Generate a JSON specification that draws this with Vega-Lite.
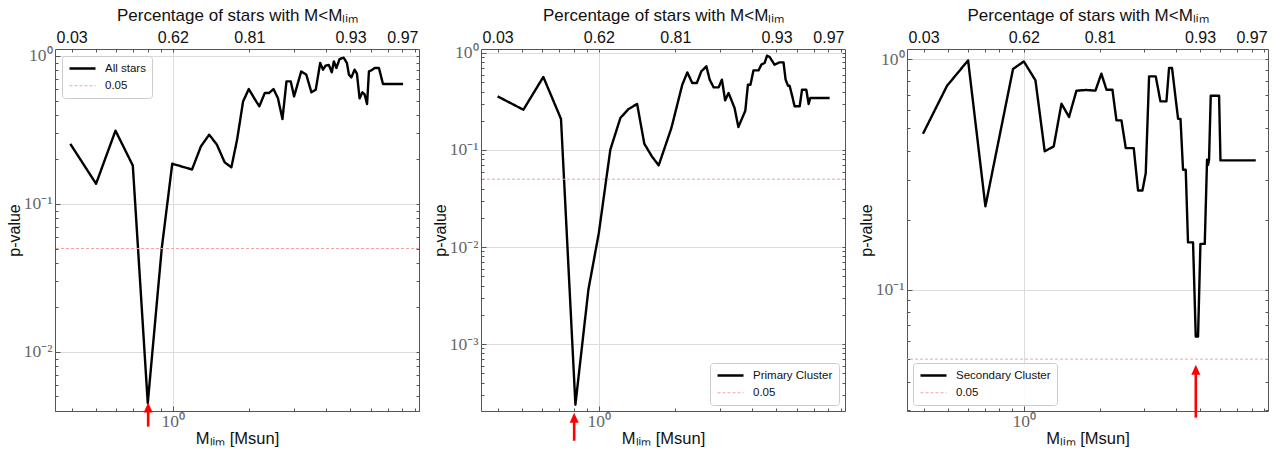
{
  "$schema": "https://vega.github.io/schema/vega-lite/v6.json",
  "padding": {"left": 6, "top": 6, "right": 5, "bottom": 5},
  "background": "white",
  "config": {
    "view": {"stroke": null},
    "axis": {
      "domainColor": "#555", "tickColor": "#555", "gridColor": "#dcdcdc", "gridWidth": 1,
      "labelOverlap": false, "labelFlush": false, "labelBound": false,
      "titleFont": "Liberation Sans", "titleFontWeight": "normal", "titleColor": "#111",
      "labelFont": "Liberation Serif", "labelColor": "#666", "labelFontSize": 17.5
    },
    "legend": {
      "title": null, "padding": 6, "strokeColor": "#cccccc", "fillColor": "rgba(255,255,255,0.85)",
      "cornerRadius": 3, "offset": 7, "labelFont": "Liberation Sans", "labelFontSize": 11.5,
      "labelColor": "#111", "rowPadding": 5, "symbolType": "M-1,0L4.2,0", "symbolSize": 100, "labelOffset": 24
    }
  },
  "datasets": {
    "curve1": [
      {"m":0.395,"p":0.255},{"m":0.499,"p":0.137},{"m":0.595,"p":0.313},{"m":0.696,"p":0.182},{"m":0.797,"p":0.0045},
      {"m":0.905,"p":0.0504},{"m":0.995,"p":0.187},{"m":1.19,"p":0.171},{"m":1.29,"p":0.245},{"m":1.39,"p":0.294},
      {"m":1.49,"p":0.252},{"m":1.60,"p":0.191},{"m":1.70,"p":0.177},{"m":1.79,"p":0.272},{"m":1.89,"p":0.493},
      {"m":1.99,"p":0.598},{"m":2.10,"p":0.512},{"m":2.19,"p":0.457},{"m":2.30,"p":0.562},{"m":2.39,"p":0.562},
      {"m":2.49,"p":0.598},{"m":2.59,"p":0.52},{"m":2.70,"p":0.375},{"m":2.80,"p":0.674},{"m":2.91,"p":0.674},
      {"m":3.00,"p":0.533},{"m":3.20,"p":0.787},{"m":3.35,"p":0.748},{"m":3.51,"p":0.568},{"m":3.65,"p":0.592},
      {"m":3.80,"p":0.897},{"m":3.90,"p":0.808},{"m":3.99,"p":0.86},{"m":4.11,"p":0.87},{"m":4.22,"p":0.775},
      {"m":4.30,"p":0.92},{"m":4.40,"p":0.83},{"m":4.53,"p":0.954},{"m":4.70,"p":0.974},{"m":4.84,"p":0.897},
      {"m":4.93,"p":0.748},{"m":5.04,"p":0.717},{"m":5.19,"p":0.808},{"m":5.30,"p":0.76},{"m":5.43,"p":0.517},
      {"m":5.57,"p":0.568},{"m":5.68,"p":0.55},{"m":5.81,"p":0.474},{"m":5.91,"p":0.787},{"m":6.04,"p":0.8},
      {"m":6.23,"p":0.83},{"m":6.47,"p":0.83},{"m":6.71,"p":0.647},{"m":8.05,"p":0.647}
    ],
    "curve2": [
      {"m":0.400,"p":0.357},{"m":0.505,"p":0.260},{"m":0.605,"p":0.566},{"m":0.710,"p":0.209},{"m":0.809,"p":0.000237},
      {"m":0.91,"p":0.00363},{"m":1.0,"p":0.0139},{"m":1.11,"p":0.1007},{"m":1.216,"p":0.214},{"m":1.31,"p":0.265},
      {"m":1.415,"p":0.298},{"m":1.51,"p":0.116},{"m":1.617,"p":0.086},{"m":1.72,"p":0.0694},{"m":1.93,"p":0.1686},
      {"m":2.13,"p":0.471},{"m":2.23,"p":0.631},{"m":2.33,"p":0.491},{"m":2.43,"p":0.491},{"m":2.53,"p":0.646},
      {"m":2.65,"p":0.728},{"m":2.73,"p":0.531},{"m":2.83,"p":0.442},{"m":2.96,"p":0.442},{"m":3.05,"p":0.531},
      {"m":3.14,"p":0.3246},{"m":3.24,"p":0.387},{"m":3.42,"p":0.271},{"m":3.54,"p":0.1726},{"m":3.77,"p":0.254},
      {"m":3.86,"p":0.471},{"m":3.95,"p":0.471},{"m":4.06,"p":0.662},{"m":4.25,"p":0.662},{"m":4.36,"p":0.758},
      {"m":4.49,"p":0.789},{"m":4.59,"p":0.938},{"m":4.70,"p":0.909},{"m":4.91,"p":0.758},{"m":5.14,"p":0.8},
      {"m":5.33,"p":0.8},{"m":5.43,"p":0.531},{"m":5.55,"p":0.46},{"m":5.63,"p":0.46},{"m":5.77,"p":0.357},
      {"m":5.89,"p":0.282},{"m":6.17,"p":0.282},{"m":6.30,"p":0.418},{"m":6.55,"p":0.418},{"m":6.69,"p":0.298},
      {"m":6.79,"p":0.3436},{"m":8.09,"p":0.3436}
    ],
    "curve3": [
      {"m":0.398,"p":0.474},{"m":0.496,"p":0.766},{"m":0.601,"p":0.986},{"m":0.704,"p":0.2297},{"m":0.906,"p":0.905},
      {"m":1.0,"p":0.976},{"m":1.112,"p":0.808},{"m":1.21,"p":0.398},{"m":1.314,"p":0.418},{"m":1.41,"p":0.64},
      {"m":1.511,"p":0.561},{"m":1.617,"p":0.729},{"m":1.771,"p":0.734},{"m":1.923,"p":0.729},{"m":2.03,"p":0.864},
      {"m":2.127,"p":0.736},{"m":2.246,"p":0.736},{"m":2.33,"p":0.542},{"m":2.439,"p":0.542},{"m":2.537,"p":0.411},
      {"m":2.729,"p":0.411},{"m":2.838,"p":0.269},{"m":2.954,"p":0.269},{"m":3.045,"p":0.3205},{"m":3.139,"p":0.841},
      {"m":3.336,"p":0.841},{"m":3.482,"p":0.655},{"m":3.678,"p":0.655},{"m":3.767,"p":0.914},{"m":3.871,"p":0.914},
      {"m":4.091,"p":0.55},{"m":4.182,"p":0.55},{"m":4.28,"p":0.331},{"m":4.387,"p":0.331},{"m":4.479,"p":0.1603},
      {"m":4.69,"p":0.1603},{"m":4.807,"p":0.0627},{"m":4.909,"p":0.0627},{"m":5.017,"p":0.158},{"m":5.219,"p":0.158},
      {"m":5.33,"p":0.366},{"m":5.379,"p":0.348},{"m":5.428,"p":0.366},{"m":5.513,"p":0.693},{"m":5.949,"p":0.693},
      {"m":6.025,"p":0.3634},{"m":8.317,"p":0.3634}
    ],
    "arrow1": [{"m":0.8,"tip":0.00455,"shaft":0.0043,"base":0.00313}],
    "arrow2": [{"m":0.8,"tip":0.000196,"shaft":0.000178,"base":0.0001007}],
    "arrow3": [{"m":4.81,"tip":0.0473,"shaft":0.0455,"base":0.0279}],
    "thr": [{"p":0.05}]
  },
  "hconcat": [
    {
      "width": 364, "height": 362,
      "layer": [
        {
          "data": {"name": "curve1"},
          "mark": {"type": "line", "strokeJoin": "round"},
          "encoding": {
            "x": {"field": "m", "type": "quantitative",
              "scale": {"type": "log", "domain": [0.344, 9.3], "nice": false, "zero": false},
              "axis": {"orient": "bottom", "values": [1], "labelExpr": "'10⁰'", "tickSize": -5, "labelPadding": 6, "grid": true,
                "title": "Mₗᵢₘ [Msun]", "titleFontSize": 16.5, "titleY": 27, "titleBaseline": "middle"}},
            "y": {"field": "p", "type": "quantitative",
              "scale": {"type": "log", "domain": [0.00399, 1.115], "nice": false, "zero": false},
              "axis": {"orient": "left", "values": [0.01, 0.1, 1], "labelExpr": "datum.value==1?'10⁰':datum.value==0.1?'10⁻¹':datum.value==0.01?'10⁻²':'10⁻³'",
                "tickSize": -5, "labelPadding": 8, "grid": true, "title": "p-value", "titleFontSize": 16, "titleX": -41, "titleBaseline": "middle"}},
            "color": {"datum": "All stars", "type": "nominal", "scale": {"domain": ["All stars", "0.05"], "range": ["black", "#f4a3a3"]}, "legend": {"orient": "top-left"}},
            "strokeDash": {"datum": "All stars", "type": "nominal", "scale": {"domain": ["All stars", "0.05"], "range": [[1, 0], [3, 2]]}},
            "strokeWidth": {"datum": "All stars", "type": "ordinal", "scale": {"type": "ordinal", "domain": ["All stars", "0.05"], "range": [2.4, 1]}}
          }
        },
        {
          "data": {"name": "thr"},
          "mark": {"type": "rule"},
          "encoding": {
            "y": {"field": "p", "type": "quantitative", "scale": {"type": "log", "domain": [0.00399, 1.115], "nice": false, "zero": false}, "axis": null},
            "color": {"datum": "0.05", "type": "nominal", "scale": {"domain": ["All stars", "0.05"], "range": ["black", "#f4a3a3"]}},
            "strokeDash": {"datum": "0.05", "type": "nominal", "scale": {"domain": ["All stars", "0.05"], "range": [[1, 0], [3, 2]]}},
            "strokeWidth": {"datum": "0.05", "type": "ordinal", "scale": {"type": "ordinal", "domain": ["All stars", "0.05"], "range": [2.4, 1]}}
          }
        },
        {
          "data": {"name": "arrow1"},
          "mark": {"type": "rule", "color": "red", "strokeWidth": 2.6},
          "encoding": {
            "x": {"field": "m", "type": "quantitative", "scale": {"type": "log", "domain": [0.344, 9.3], "nice": false, "zero": false},
              "axis": {"orient": "top", "values": [0.4,0.5,0.6,0.7,0.8,0.9,1,2,3,4,5,6,7,8,9],
                "labelExpr": "datum.value==0.4?'0.03':datum.value==1?'0.62':datum.value==2?'0.81':datum.value==5?'0.93':datum.value==8?'0.97':''",
                "tickSize": -3, "labelPadding": 7, "labelFont": "Liberation Sans", "labelColor": "#111", "labelFontSize": 16,
                "title": "Percentage of stars with M<Mₗᵢₘ", "titleFontSize": 17, "titleY": -34, "titleBaseline": "middle", "grid": false}},
            "y": {"field": "base", "type": "quantitative", "scale": {"type": "log", "domain": [0.00399, 1.115], "nice": false, "zero": false},
              "axis": {"orient": "right", "values": [0.004,0.005,0.006,0.007,0.008,0.009,0.01,0.02,0.03,0.04,0.05,0.06,0.07,0.08,0.09,0.1,0.2,0.3,0.4,0.5,0.6,0.7,0.8,0.9,1],
                "labels": false, "tickSize": -3, "title": null, "grid": false}},
            "y2": {"field": "shaft"}
          }
        },
        {
          "data": {"name": "arrow1"},
          "mark": {"type": "point", "shape": "M0,0L-0.45,1L0.45,1Z", "filled": true, "size": 400, "color": "red", "opacity": 1},
          "encoding": {
            "x": {"field": "m", "type": "quantitative", "scale": {"type": "log", "domain": [0.344, 9.3], "nice": false, "zero": false},
              "axis": {"orient": "bottom", "values": [0.4,0.5,0.6,0.7,0.8,0.9,2,3,4,5,6,7,8,9], "labels": false, "domain": false, "tickSize": -3, "title": null, "grid": false}},
            "y": {"field": "tip", "type": "quantitative", "scale": {"type": "log", "domain": [0.00399, 1.115], "nice": false, "zero": false},
              "axis": {"orient": "left", "values": [0.004,0.005,0.006,0.007,0.008,0.009,0.02,0.03,0.04,0.05,0.06,0.07,0.08,0.09,0.2,0.3,0.4,0.5,0.6,0.7,0.8,0.9],
                "labels": false, "domain": false, "tickSize": -3, "title": null, "grid": false}}
          }
        }
      ],
      "resolve": {"axis": {"x": "independent", "y": "independent"}}
    },
    {
      "width": 364, "height": 362,
      "layer": [
        {
          "data": {"name": "curve2"},
          "mark": {"type": "line", "strokeJoin": "round"},
          "encoding": {
            "x": {"field": "m", "type": "quantitative",
              "scale": {"type": "log", "domain": [0.344, 9.3], "nice": false, "zero": false},
              "axis": {"orient": "bottom", "values": [1], "labelExpr": "'10⁰'", "tickSize": -5, "labelPadding": 6, "grid": true,
                "title": "Mₗᵢₘ [Msun]", "titleFontSize": 16.5, "titleY": 27, "titleBaseline": "middle"}},
            "y": {"field": "p", "type": "quantitative",
              "scale": {"type": "log", "domain": [0.000204, 1.099], "nice": false, "zero": false},
              "axis": {"orient": "left", "values": [0.001, 0.01, 0.1, 1], "labelExpr": "datum.value==1?'10⁰':datum.value==0.1?'10⁻¹':datum.value==0.01?'10⁻²':'10⁻³'",
                "tickSize": -5, "labelPadding": 8, "grid": true, "title": "p-value", "titleFontSize": 16, "titleX": -41, "titleBaseline": "middle"}},
            "color": {"datum": "Primary Cluster", "type": "nominal", "scale": {"domain": ["Primary Cluster", "0.05"], "range": ["black", "#f4a3a3"]}, "legend": {"orient": "bottom-right", "offset": 6}},
            "strokeDash": {"datum": "Primary Cluster", "type": "nominal", "scale": {"domain": ["Primary Cluster", "0.05"], "range": [[1, 0], [3, 2]]}},
            "strokeWidth": {"datum": "Primary Cluster", "type": "ordinal", "scale": {"type": "ordinal", "domain": ["Primary Cluster", "0.05"], "range": [2.4, 1]}}
          }
        },
        {
          "data": {"name": "thr"},
          "mark": {"type": "rule"},
          "encoding": {
            "y": {"field": "p", "type": "quantitative", "scale": {"type": "log", "domain": [0.000204, 1.099], "nice": false, "zero": false}, "axis": null},
            "color": {"datum": "0.05", "type": "nominal", "scale": {"domain": ["Primary Cluster", "0.05"], "range": ["black", "#f4a3a3"]}},
            "strokeDash": {"datum": "0.05", "type": "nominal", "scale": {"domain": ["Primary Cluster", "0.05"], "range": [[1, 0], [3, 2]]}},
            "strokeWidth": {"datum": "0.05", "type": "ordinal", "scale": {"type": "ordinal", "domain": ["Primary Cluster", "0.05"], "range": [2.4, 1]}}
          }
        },
        {
          "data": {"name": "arrow2"},
          "mark": {"type": "rule", "color": "red", "strokeWidth": 2.6},
          "encoding": {
            "x": {"field": "m", "type": "quantitative", "scale": {"type": "log", "domain": [0.344, 9.3], "nice": false, "zero": false},
              "axis": {"orient": "top", "values": [0.4,0.5,0.6,0.7,0.8,0.9,1,2,3,4,5,6,7,8,9],
                "labelExpr": "datum.value==0.4?'0.03':datum.value==1?'0.62':datum.value==2?'0.81':datum.value==5?'0.93':datum.value==8?'0.97':''",
                "tickSize": -3, "labelPadding": 7, "labelFont": "Liberation Sans", "labelColor": "#111", "labelFontSize": 16,
                "title": "Percentage of stars with M<Mₗᵢₘ", "titleFontSize": 17, "titleY": -34, "titleBaseline": "middle", "grid": false}},
            "y": {"field": "base", "type": "quantitative", "scale": {"type": "log", "domain": [0.000204, 1.099], "nice": false, "zero": false},
              "axis": {"orient": "right", "values": [0.0003,0.0004,0.0005,0.0006,0.0007,0.0008,0.0009,0.001,0.002,0.003,0.004,0.005,0.006,0.007,0.008,0.009,0.01,0.02,0.03,0.04,0.05,0.06,0.07,0.08,0.09,0.1,0.2,0.3,0.4,0.5,0.6,0.7,0.8,0.9,1],
                "labels": false, "tickSize": -3, "title": null, "grid": false}},
            "y2": {"field": "shaft"}
          }
        },
        {
          "data": {"name": "arrow2"},
          "mark": {"type": "point", "shape": "M0,0L-0.45,1L0.45,1Z", "filled": true, "size": 400, "color": "red", "opacity": 1},
          "encoding": {
            "x": {"field": "m", "type": "quantitative", "scale": {"type": "log", "domain": [0.344, 9.3], "nice": false, "zero": false},
              "axis": {"orient": "bottom", "values": [0.4,0.5,0.6,0.7,0.8,0.9,2,3,4,5,6,7,8,9], "labels": false, "domain": false, "tickSize": -3, "title": null, "grid": false}},
            "y": {"field": "tip", "type": "quantitative", "scale": {"type": "log", "domain": [0.000204, 1.099], "nice": false, "zero": false},
              "axis": {"orient": "left", "values": [0.0003,0.0004,0.0005,0.0006,0.0007,0.0008,0.0009,0.002,0.003,0.004,0.005,0.006,0.007,0.008,0.009,0.02,0.03,0.04,0.05,0.06,0.07,0.08,0.09,0.2,0.3,0.4,0.5,0.6,0.7,0.8,0.9],
                "labels": false, "domain": false, "tickSize": -3, "title": null, "grid": false}}
          }
        }
      ],
      "resolve": {"axis": {"x": "independent", "y": "independent"}}
    },
    {
      "width": 361, "height": 362,
      "layer": [
        {
          "data": {"name": "curve3"},
          "mark": {"type": "line", "strokeJoin": "round"},
          "encoding": {
            "x": {"field": "m", "type": "quantitative",
              "scale": {"type": "log", "domain": [0.344, 9.3], "nice": false, "zero": false},
              "axis": {"orient": "bottom", "values": [1], "labelExpr": "'10⁰'", "tickSize": -5, "labelPadding": 6, "grid": true,
                "title": "Mₗᵢₘ [Msun]", "titleFontSize": 16.5, "titleY": 27, "titleBaseline": "middle"}},
            "y": {"field": "p", "type": "quantitative",
              "scale": {"type": "log", "domain": [0.0298, 1.105], "nice": false, "zero": false},
              "axis": {"orient": "left", "values": [0.1, 1], "labelExpr": "datum.value==1?'10⁰':datum.value==0.1?'10⁻¹':datum.value==0.01?'10⁻²':'10⁻³'",
                "tickSize": -5, "labelPadding": 8, "grid": true, "title": "p-value", "titleFontSize": 16, "titleX": -41, "titleBaseline": "middle"}},
            "color": {"datum": "Secondary Cluster", "type": "nominal", "scale": {"domain": ["Secondary Cluster", "0.05"], "range": ["black", "#f4a3a3"]}, "legend": {"orient": "bottom-left", "offset": 6}},
            "strokeDash": {"datum": "Secondary Cluster", "type": "nominal", "scale": {"domain": ["Secondary Cluster", "0.05"], "range": [[1, 0], [3, 2]]}},
            "strokeWidth": {"datum": "Secondary Cluster", "type": "ordinal", "scale": {"type": "ordinal", "domain": ["Secondary Cluster", "0.05"], "range": [2.4, 1]}}
          }
        },
        {
          "data": {"name": "thr"},
          "mark": {"type": "rule"},
          "encoding": {
            "y": {"field": "p", "type": "quantitative", "scale": {"type": "log", "domain": [0.0298, 1.105], "nice": false, "zero": false}, "axis": null},
            "color": {"datum": "0.05", "type": "nominal", "scale": {"domain": ["Secondary Cluster", "0.05"], "range": ["black", "#f4a3a3"]}},
            "strokeDash": {"datum": "0.05", "type": "nominal", "scale": {"domain": ["Secondary Cluster", "0.05"], "range": [[1, 0], [3, 2]]}},
            "strokeWidth": {"datum": "0.05", "type": "ordinal", "scale": {"type": "ordinal", "domain": ["Secondary Cluster", "0.05"], "range": [2.4, 1]}}
          }
        },
        {
          "data": {"name": "arrow3"},
          "mark": {"type": "rule", "color": "red", "strokeWidth": 2.6},
          "encoding": {
            "x": {"field": "m", "type": "quantitative", "scale": {"type": "log", "domain": [0.344, 9.3], "nice": false, "zero": false},
              "axis": {"orient": "top", "values": [0.4,0.5,0.6,0.7,0.8,0.9,1,2,3,4,5,6,7,8,9],
                "labelExpr": "datum.value==0.4?'0.03':datum.value==1?'0.62':datum.value==2?'0.81':datum.value==5?'0.93':datum.value==8?'0.97':''",
                "tickSize": -3, "labelPadding": 7, "labelFont": "Liberation Sans", "labelColor": "#111", "labelFontSize": 16,
                "title": "Percentage of stars with M<Mₗᵢₘ", "titleFontSize": 17, "titleY": -34, "titleBaseline": "middle", "grid": false}},
            "y": {"field": "base", "type": "quantitative", "scale": {"type": "log", "domain": [0.0298, 1.105], "nice": false, "zero": false},
              "axis": {"orient": "right", "values": [0.03,0.04,0.05,0.06,0.07,0.08,0.09,0.1,0.2,0.3,0.4,0.5,0.6,0.7,0.8,0.9,1],
                "labels": false, "tickSize": -3, "title": null, "grid": false}},
            "y2": {"field": "shaft"}
          }
        },
        {
          "data": {"name": "arrow3"},
          "mark": {"type": "point", "shape": "M0,0L-0.45,1L0.45,1Z", "filled": true, "size": 400, "color": "red", "opacity": 1},
          "encoding": {
            "x": {"field": "m", "type": "quantitative", "scale": {"type": "log", "domain": [0.344, 9.3], "nice": false, "zero": false},
              "axis": {"orient": "bottom", "values": [0.4,0.5,0.6,0.7,0.8,0.9,2,3,4,5,6,7,8,9], "labels": false, "domain": false, "tickSize": -3, "title": null, "grid": false}},
            "y": {"field": "tip", "type": "quantitative", "scale": {"type": "log", "domain": [0.0298, 1.105], "nice": false, "zero": false},
              "axis": {"orient": "left", "values": [0.03,0.04,0.05,0.06,0.07,0.08,0.09,0.2,0.3,0.4,0.5,0.6,0.7,0.8,0.9],
                "labels": false, "domain": false, "tickSize": -3, "title": null, "grid": false}}
          }
        }
      ],
      "resolve": {"axis": {"x": "independent", "y": "independent"}}
    }
  ],
  "spacing": 62,
  "bounds": "flush",
  "resolve": {"scale": {"color": "independent", "strokeDash": "independent", "strokeWidth": "independent"}, "legend": {"color": "independent", "strokeDash": "independent", "strokeWidth": "independent"}}
}
